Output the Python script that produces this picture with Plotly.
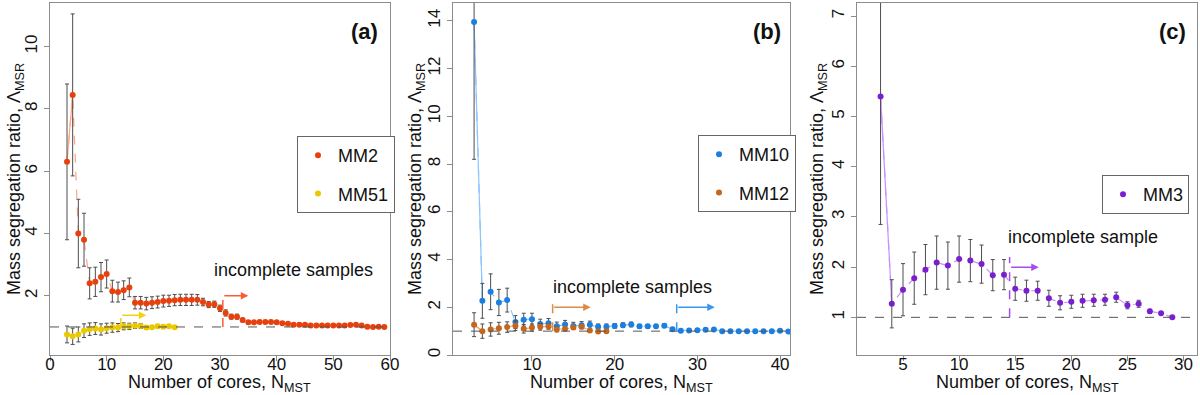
import plotly.graph_objects as go

# ---- panel (a) ----
mm2_n = list(range(3, 60))
mm2_val = [6.3, 8.45, 4.0, 3.8, 2.4, 2.45, 2.6, 2.7, 2.15, 2.12, 2.18, 2.27,
           1.78, 1.78, 1.75, 1.78, 1.8, 1.83, 1.84, 1.86, 1.87, 1.87, 1.87, 1.87,
           1.8, 1.72, 1.73, 1.6, 1.45, 1.33, 1.33, 1.22, 1.15, 1.15, 1.16, 1.16,
           1.16, 1.15, 1.12, 1.1, 1.07, 1.07, 1.07, 1.05, 1.05, 1.05, 1.05, 1.05,
           1.05, 1.05, 1.06, 1.07, 1.05, 1.01, 1.0, 1.01, 1.0]
mm2_err = [2.5, 2.6, 1.1, 0.85, 0.5, 0.47, 0.47, 0.45, 0.35, 0.32, 0.3, 0.3,
           0.2, 0.2, 0.2, 0.19, 0.19, 0.19, 0.18, 0.18, 0.18, 0.18, 0.18, 0.17,
           0.12, 0.1, 0.1, 0.1, 0.1, 0.08, 0.08, 0.06, 0.05, 0.05, 0.05, 0.05,
           0.05, 0.05, 0.04, 0.04, 0.04, 0.04, 0.04, 0.03, 0.03, 0.03, 0.03, 0.03,
           0.03, 0.03, 0.03, 0.03, 0.03, 0.02, 0.02, 0.02, 0.02]
mm51_n = list(range(3, 23))
mm51_val = [0.76, 0.70, 0.76, 0.88, 0.93, 0.95, 0.92, 0.96, 0.98, 0.98,
            1.02, 1.02, 1.04, 1.03, 0.98, 0.99, 1.02, 1.01, 1.02, 0.99]
mm51_err = [0.27, 0.26, 0.24, 0.22, 0.2, 0.19, 0.18, 0.16, 0.15, 0.13,
            0.11, 0.1, 0.09, 0.08, 0.06, 0.05, 0.05, 0.04, 0.03, 0.02]

# ---- panel (b) ----
mm10_n = list(range(3, 42))
mm10_val = [13.95, 2.27, 2.65, 2.2, 2.3, 1.38, 1.48, 1.5, 1.3, 1.33, 1.2, 1.28,
            1.22, 1.25, 1.27, 1.18, 1.18, 1.22, 1.25, 1.28, 1.2, 1.2, 1.2, 1.23,
            1.08, 1.02, 1.03, 1.04, 1.06, 1.07, 1.0, 0.99, 0.99, 0.99, 0.99, 0.99,
            0.99, 1.02, 0.98]
mm10_err = [5.75, 0.73, 0.75, 0.55, 0.5, 0.27, 0.27, 0.25, 0.2, 0.2, 0.18, 0.17,
            0.15, 0.15, 0.15, 0.12, 0.12, 0.1, 0.1, 0.1, 0.08, 0.08, 0.08, 0.08,
            0.05, 0.04, 0.04, 0.04, 0.04, 0.04, 0.03, 0.03, 0.03, 0.03, 0.03, 0.03,
            0.03, 0.03, 0.02]
mm12_n = list(range(3, 20))
mm12_val = [1.27, 1.0, 1.07, 1.12, 1.17, 1.23, 1.1, 1.15, 1.18, 1.2,
            1.07, 1.1, 1.15, 1.18, 1.03, 0.98, 1.0]
mm12_err = [0.5, 0.3, 0.28, 0.25, 0.22, 0.2, 0.18, 0.15, 0.14, 0.12,
            0.1, 0.08, 0.07, 0.06, 0.05, 0.03, 0.02]

# ---- panel (c) ----
mm3_n = list(range(3, 30))
mm3_val = [5.4, 1.27, 1.55, 1.78, 1.95, 2.09, 2.03, 2.16, 2.13, 2.06, 1.84, 1.85,
           1.57, 1.53, 1.53, 1.38, 1.29, 1.31, 1.33, 1.34, 1.35, 1.4, 1.24, 1.27,
           1.12, 1.08, 1.0]
mm3_err = [2.55, 0.48, 0.52, 0.52, 0.5, 0.53, 0.47, 0.46, 0.42, 0.38, 0.31, 0.3,
           0.23, 0.21, 0.19, 0.16, 0.14, 0.13, 0.13, 0.12, 0.11, 0.1, 0.07, 0.07,
           0.04, 0.02, 0.01]

# completeness limits: (panel, cut, arrow end, arrow y, line top, colour)
cuts = [("", 30.5, 35.0, 2.0, 2.12, "#FF5A36"),
        ("", 12.5, 17.0, 1.38, 1.55, "#F5D010"),
        ("2", 12.5, 17.1, 2.0, 2.17, "#E08A45"),
        ("2", 27.5, 32.1, 2.0, 2.17, "#3A96F0"),
        ("3", 14.5, 17.1, 2.0, 2.2, "#A64DF0")]

FONT = "Liberation Sans, Arial, sans-serif"
ERRC = "#4d4d4d"

fig = go.Figure()


def add_series(n, val, err, col, lcol, name, ax, leg):
    sfx = ax
    fig.add_trace(go.Scatter(
        x=n, y=val, mode="lines", line=dict(color=lcol, width=1.2, dash="dash"),
        xaxis="x" + sfx, yaxis="y" + sfx, showlegend=False, hoverinfo="skip"))
    fig.add_trace(go.Scatter(
        x=n[:2], y=val[:2], mode="lines", line=dict(color=lcol, width=1.2),
        xaxis="x" + sfx, yaxis="y" + sfx, showlegend=False, hoverinfo="skip"))
    fig.add_trace(go.Scatter(
        x=n, y=val, mode="markers",
        marker=dict(color=col, size=6),
        error_y=dict(type="data", array=err, color=ERRC, thickness=1, width=2),
        xaxis="x" + sfx, yaxis="y" + sfx, name=name, showlegend=False))
    fig.add_trace(go.Scatter(
        x=[None], y=[None], mode="markers", marker=dict(color=col, size=6),
        name=name, legend=leg, legendgroup=name, xaxis="x" + sfx, yaxis="y" + sfx))


add_series(mm2_n, mm2_val, mm2_err, "#E8400C", "#FFA585", "MM2", "", "legend")
add_series(mm51_n, mm51_val, mm51_err, "#EBC800", "#FFE680", "MM51", "", "legend")
add_series(mm10_n, mm10_val, mm10_err, "#1A7FE0", "#8CC4FF", "MM10", "2", "legend2")
add_series(mm12_n, mm12_val, mm12_err, "#C4661E", "#E8AA72", "MM12", "2", "legend2")
add_series(mm3_n, mm3_val, mm3_err, "#7A1FD0", "#C590FF", "MM3", "3", "legend3")

W, H = 1200, 395
dom_x = [(50, 390), (453, 790), (857, 1197)]
dom_y = [(H - 355) / H, (H - 3) / H]
xr = [[0, 60], [0.45, 41.2], [0.9, 31.2]]
yr = [[0.1, 11.4], [0, 14.75], [0.25, 7.26]]
xdt = [10, 10, 5]
ydt = [2, 2, 1]
ytick0 = [2, 0, 1]

axis_common = dict(showline=True, mirror=True, linecolor="#8c8c8c", linewidth=1,
                   ticks="outside", ticklen=5, tickcolor="#8c8c8c",
                   showgrid=False, zeroline=False, automargin=False,
                   tickfont=dict(family=FONT, size=17, color="#111"))

layout = dict(width=W, height=H, margin=dict(l=0, r=0, t=0, b=0),
              template="none",
              plot_bgcolor="white", paper_bgcolor="white",
              font=dict(family=FONT, color="#111"))
for i, sfx in enumerate(["", "2", "3"]):
    layout["xaxis" + sfx] = dict(domain=[dom_x[i][0] / W, dom_x[i][1] / W],
                                 range=xr[i], dtick=xdt[i], tick0=0,
                                 ticklabelstandoff=-11,
                                 anchor="y" + sfx, **axis_common)
    layout["yaxis" + sfx] = dict(domain=dom_y, range=yr[i], dtick=ydt[i],
                                 tick0=ytick0[i], tickangle=-90,
                                 anchor="x" + sfx, **axis_common)

legpos = [(297, 136), (698, 135), (1102, 175)]
for i, key in enumerate(["legend", "legend2", "legend3"]):
    layout[key] = dict(x=legpos[i][0] / W, y=1 - legpos[i][1] / H,
                       xanchor="left", yanchor="top",
                       bordercolor="#666", borderwidth=1, bgcolor="white",
                       font=dict(family=FONT, size=18, color="#111"),
                       tracegroupgap=12, itemwidth=30)
fig.update_layout(**layout)

# reference line at ratio = 1
for sfx in ["", "2", "3"]:
    fig.add_shape(type="line", xref="x" + sfx + " domain", yref="y" + sfx,
                  x0=0, x1=1, y0=1, y1=1,
                  line=dict(color="#555", width=1, dash="dash"))

# completeness cuts with arrows
for sfx, cut, end, ya, top, col in cuts:
    fig.add_shape(type="line", xref="x" + sfx, yref="y" + sfx,
                  x0=cut, x1=cut, y0=1, y1=top,
                  line=dict(color=col, width=1.5, dash="dash"))
    fig.add_annotation(xref="x" + sfx, yref="y" + sfx, axref="x" + sfx, ayref="y" + sfx,
                       x=end, y=ya, ax=cut, ay=ya, text="", showarrow=True,
                       arrowhead=2, arrowsize=1, arrowwidth=1.5, arrowcolor=col)

# text labels
labels = [("", 42.9, 2.83, "incomplete samples"),
          ("2", 22.1, 2.84, "incomplete samples"),
          ("3", 21.0, 2.61, "incomplete sample")]
for sfx, x, y, t in labels:
    fig.add_annotation(xref="x" + sfx, yref="y" + sfx, x=x, y=y, text=t,
                       xanchor="center", yanchor="middle",
                       showarrow=False, font=dict(family=FONT, size=18, color="#111"))

panel_tags = [(365, "(a)"), (767, "(b)"), (1172, "(c)")]
for px, t in panel_tags:
    fig.add_annotation(xref="paper", yref="paper", x=px / W, y=1 - 32 / H,
                       xanchor="center", yanchor="middle",
                       text="<b>" + t + "</b>", showarrow=False,
                       font=dict(family=FONT, size=22, color="#111"))

ytitle_x = [15, 416, 818]
for i in range(3):
    fig.add_annotation(xref="paper", yref="paper", x=ytitle_x[i] / W, y=1 - 179 / H,
                       xanchor="center", yanchor="middle",
                       text="Mass segregation ratio, \u039b<sub>MSR</sub>",
                       textangle=-90, showarrow=False,
                       font=dict(family=FONT, size=18, color="#111"))
    fig.add_annotation(xref="paper", yref="paper",
                       x=(dom_x[i][0] + dom_x[i][1]) / 2 / W, y=1 - 383 / H,
                       xanchor="center", yanchor="middle",
                       text="Number of cores, N<sub>MST</sub>", showarrow=False,
                       font=dict(family=FONT, size=18, color="#111"))

fig.write_html("out.html", config={"displayModeBar": False},
               post_script="document.body.style.margin='0';")
